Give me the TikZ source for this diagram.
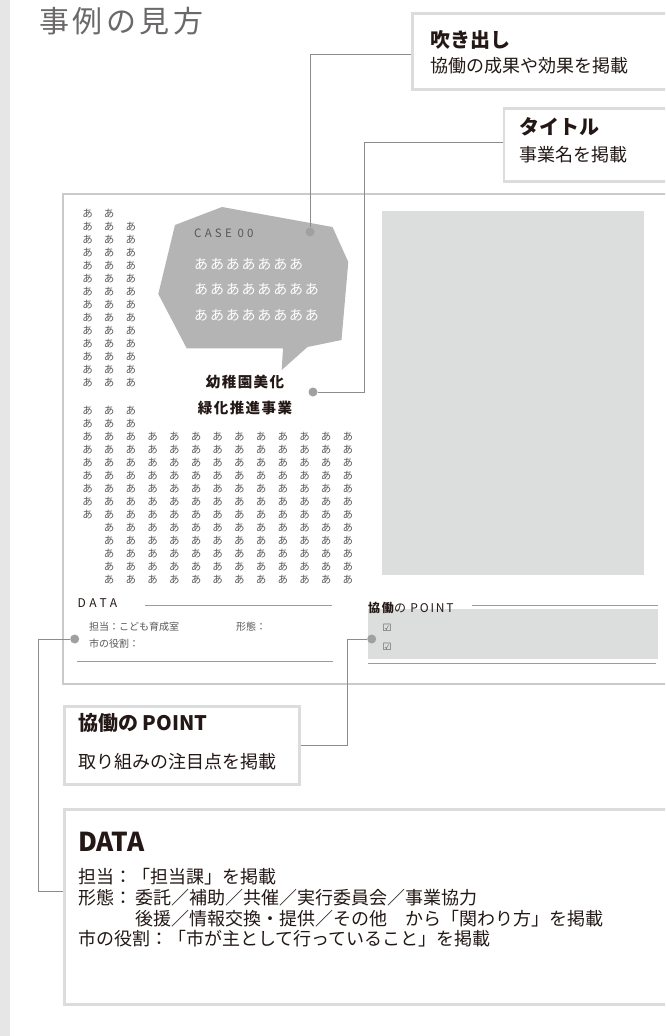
\documentclass[tikz,border=0pt]{standalone}
\usepackage{fontspec}
\setmainfont{Noto Sans CJK JP}
\newfontfamily\symfont{DejaVu Sans}
\newcommand\fsz[1]{\fontsize{#1}{#1}\selectfont}
\definecolor{stripc}{HTML}{E6E6E6}
\definecolor{boxc}{HTML}{DCDCDC}
\definecolor{framec}{HTML}{CACACA}
\definecolor{connc}{HTML}{8C8C8C}
\definecolor{dotc}{HTML}{A0A0A0}
\definecolor{bubc}{HTML}{B4B4B4}
\definecolor{photoc}{HTML}{DCDDDD}
\definecolor{ink}{HTML}{231815}
\definecolor{gridc}{HTML}{595757}
\definecolor{titlec}{HTML}{6A6868}
\definecolor{rulec}{HTML}{9C9C9C}
\begin{document}
\begin{tikzpicture}[x=1pt,y=-1pt,
  lbl/.style={anchor=west, inner sep=0pt, text=ink},
  callbox/.style={draw=boxc, line width=2.5pt, fill=white, anchor=north west, inner sep=0pt},
  conn/.style={draw=connc, line width=1pt},
  dotn/.style={circle, fill=dotc, minimum size=9pt, inner sep=0pt},
  gridt/.style={inner sep=0pt, text=gridc, font=\fsz{10.5}},
  rulel/.style={draw=rulec, line width=0.8pt}]
\clip (0,0) rectangle (665,1036);
\fill[white] (0,0) rectangle (665,1036);
\fill[stripc] (0,0) rectangle (10,1036);

% title
\node[lbl, text=titlec] (title) at (39,21) {\fsz{30}\addfontfeature{LetterSpace=12}事例の見方};

% mock page frame
\draw[framec, line width=2.5pt] (63,194) rectangle (700,684);
\fill[photoc] (382,211) rectangle (644,575);

% speech bubble
\fill[bubc] (175,225) -- (222,207) -- (332.5,227) -- (348.3,262) -- (341.5,340)
  -- (307.5,347) -- (281.7,370) -- (283,348.3) -- (186.7,348.3) -- (158.3,294) -- cycle;
\node[lbl, text=gridc] (case) at (194,233) {\fsz{11.5}\addfontfeature{LetterSpace=28}CASE 00};
\node[lbl, text=white] (bl1) at (194,264) {\fsz{14}\addfontfeature{LetterSpace=13}あああああああ};
\node[lbl, text=white] (bl2) at (194,289.5) {\fsz{14}\addfontfeature{LetterSpace=13}ああああああああ};
\node[lbl, text=white] (bl3) at (194,315.5) {\fsz{14}\addfontfeature{LetterSpace=13}ああああああああ};
\node[inner sep=0pt, text=ink] (tt1) at (245,382) {\bfseries\fsz{14.5}\addfontfeature{LetterSpace=10}幼稚園美化};
\node[inner sep=0pt, text=ink] (tt2) at (245,408) {\bfseries\fsz{14.5}\addfontfeature{LetterSpace=10}緑化推進事業};

% text grid, block 1
\foreach \c in {1,2}
  \node[gridt] (ga-1-\c) at ({87.5+21.7*(\c-1)},213.3) {あ};
\foreach \r in {2,...,14}
  \foreach \c in {1,2,3}
    \node[gridt] (ga-\r-\c) at ({87.5+21.7*(\c-1)},{213.3+13.03*(\r-1)}) {あ};
% text grid, block 2
\foreach \r in {1,2}
  \foreach \c in {1,2,3}
    \node[gridt] (gb-\r-\c) at ({87.5+21.7*(\c-1)},{411+13*(\r-1)}) {あ};
\foreach \r in {3,...,9}
  \foreach \c in {1,...,13}
    \node[gridt] (gb-\r-\c) at ({87.5+21.7*(\c-1)},{411+13*(\r-1)}) {あ};
\foreach \r in {10,...,14}
  \foreach \c in {2,...,13}
    \node[gridt] (gb-\r-\c) at ({87.5+21.7*(\c-1)},{411+13*(\r-1)}) {あ};

% mock DATA section
\node[lbl] (mdata) at (77.5,603) {\fsz{12}\addfontfeature{LetterSpace=30}DATA};
\draw[rulel] (145,605) -- (332,605);
\node[lbl, text=gridc] (mtan) at (89,627) {\fsz{10}担当：こども育成室};
\node[lbl, text=gridc] (mkei) at (236,627) {\fsz{10}形態：};
\node[lbl, text=gridc] (mshi) at (89,644) {\fsz{10}市の役割：};
\draw[rulel] (77,661) -- (333,661);

% mock POINT section
\fill[photoc] (368,609) rectangle (658,659);
\node[lbl] (mpoint) at (368,607.5) {\fsz{12}\addfontfeature{LetterSpace=15}{\bfseries 協働}の POINT};
\draw[rulel] (472,605) -- (658,605);
\node[lbl, text=gridc] (ck1) at (382.5,628) {\symfont\fsz{10}☑};
\node[lbl, text=gridc] (ck2) at (382.5,647) {\symfont\fsz{10}☑};
\draw[rulel] (368,663) -- (656,663);

% callout boxes
\node[callbox, minimum width=290, minimum height=76] (b1) at (411,12) {};
\node[lbl, font=\bfseries\fsz{20}] (b1h) at (430,40) {吹き出し};
\node[lbl, font=\fsz{18}] (b1t) at (430,65.5) {協働の成果や効果を掲載};

\node[callbox, minimum width=200, minimum height=73] (b2) at (502.5,107) {};
\node[lbl, font=\bfseries\fsz{20}] (b2h) at (519,127) {タイトル};
\node[lbl, font=\fsz{18}] (b2t) at (519,155) {事業名を掲載};

\node[callbox, minimum width=235, minimum height=78] (pbox) at (63,705) {};
\node[lbl, font=\bfseries\fsz{20}] (pboxh) at (78,723) {協働の POINT};
\node[lbl, font=\fsz{18}] (pboxt) at (78,762) {取り組みの注目点を掲載};

\node[callbox, minimum width=640, minimum height=195] (dbox) at (63,808) {};
\node[lbl, font=\bfseries\fsz{26}] (dboxh) at (78,842) {DATA};
\node[lbl, font=\fsz{18}] (dl1) at (78,877) {担当：「担当課」を掲載};
\node[lbl, font=\fsz{18}] (dl2a) at (78,898) {形態：};
\node[lbl, font=\fsz{18}] (dl2b) at (135,898) {委託／補助／共催／実行委員会／事業協力};
\node[lbl, font=\fsz{18}] (dl3) at (135,918.5) {後援／情報交換・提供／その他　から「関わり方」を掲載};
\node[lbl, font=\fsz{18}] (dl4) at (78,939) {市の役割：「市が主として行っていること」を掲載};

% dots
\node[dotn] (d1) at (310,232) {};
\node[dotn] (d2) at (313,392) {};
\node[dotn] (d3) at (371.7,639) {};
\node[dotn] (d4) at (74.7,639) {};

% connectors
\coordinate (b1a) at (411,54);
\coordinate (b2a) at (502.5,142);
\coordinate (k2) at (364,392);
\coordinate (k3) at (347,639);
\coordinate (k4) at (38,891);
\coordinate (dbin) at (63,891);
\draw[conn] (b1a) -| (d1);
\draw[conn] (b2a) -| (k2) -- (d2);
\draw[conn] (pbox.east) -| (k3) -- (d3);
\draw[conn] (d4) -| (k4) -- (dbin);
\end{tikzpicture}
\end{document}
